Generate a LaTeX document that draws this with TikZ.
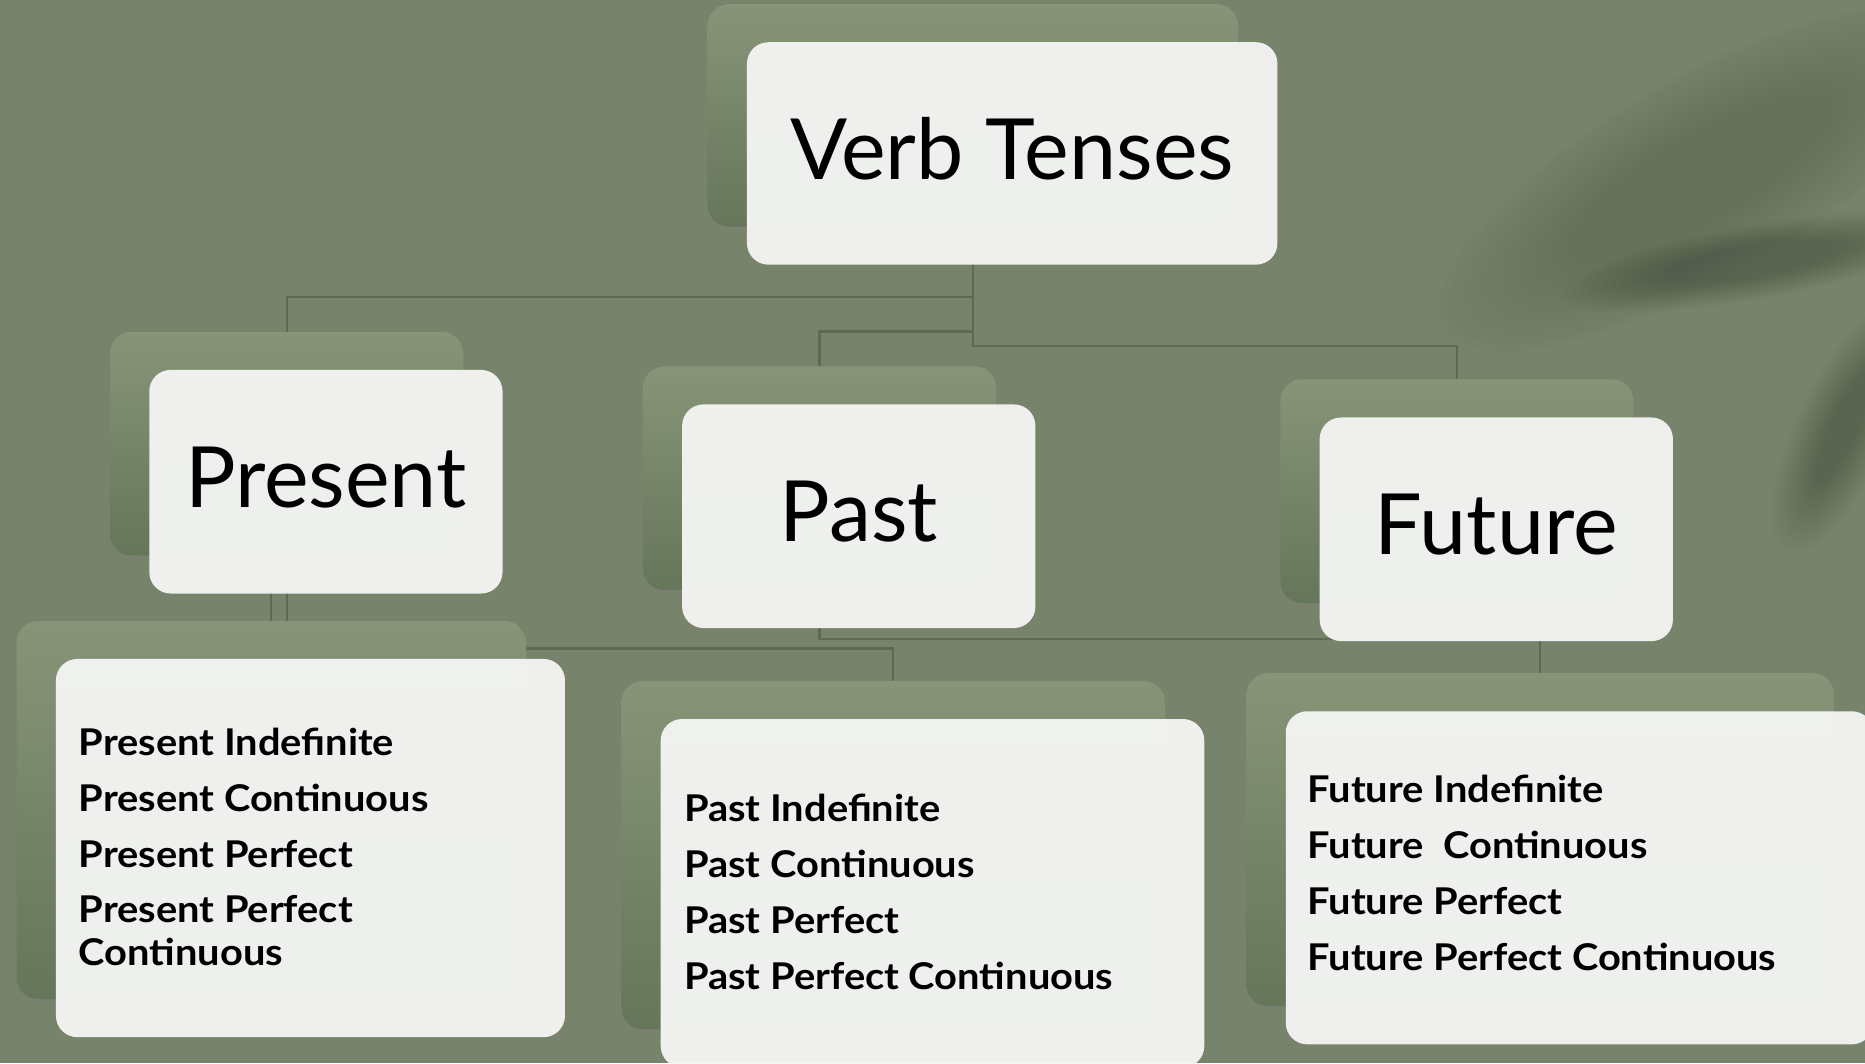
\documentclass[tikz,border=0pt]{standalone}
\usepackage{fontspec}
\setmainfont{Lato}
\newfontfamily\itemfont{Lato}[FakeStretch=1.08]
\usetikzlibrary{shadows}
\definecolor{sage}{HTML}{77836A}
\definecolor{sagelight}{HTML}{879478}
\definecolor{sagedark}{HTML}{66765A}
\definecolor{linkgreen}{HTML}{5E6A52}
\definecolor{card}{HTML}{F4F5F3}
\pgfdeclarelayer{bg}
\pgfdeclarelayer{links}
\pgfsetlayers{bg,links,main}

\tikzset{
  backbox/.style={rectangle, rounded corners=18pt, inner sep=0pt,
    top color=sagelight, bottom color=sagedark,
    drop shadow={shadow xshift=1pt, shadow yshift=-3pt, opacity=0.35}},
  frontbox/.style={rectangle, rounded corners=18pt, inner sep=0pt,
    fill=card, fill opacity=0.96, text opacity=1, text depth=8pt,
    font=\fontsize{71}{85}\selectfont},
  link/.style={draw=linkgreen, line width=1.8pt},
  item/.style={anchor=base west, inner sep=0pt,
    font=\itemfont\bfseries\fontsize{31}{36}\selectfont},
  leafshade/.style={fill=black, opacity=0.012},
}

\begin{document}
\begin{tikzpicture}[x=1pt, y=-1pt]
  \useasboundingbox (0,0) rectangle (1568,894);

  % background with the soft leaf shadow
  \begin{pgfonlayer}{bg}
    \fill[sage] (0,0) rectangle (1568,894);
    \foreach \k in {0,...,14} {
      \fill[leafshade, opacity=0.008] (1430,150) ellipse [x radius={250*(1-0.035*\k)}, y radius={85*(1-0.04*\k)}, rotate=30];
      \fill[leafshade] (1475,220) ellipse [x radius={170*(1-0.04*\k)}, y radius={32*(1-0.04*\k)}, rotate=10];
      \fill[leafshade] (1550,360) ellipse [x radius={115*(1-0.04*\k)}, y radius={40*(1-0.05*\k)}, rotate=65];
    }
  \end{pgfonlayer}

  % cards: back plate + front card
  \foreach \n/\x/\y/\w/\h/\t in {
      top/818/97/446/187/Verb Tenses,
      pres/241/373/297/188/Present,
      past/689/402/297/188/Past,
      fut/1225/413/297/188/Future,
      presl/228/681/428/318/,
      pastl/751/719/457/293/,
      futl/1295/706/494/280/} {
    \node[backbox, minimum width=\w pt, minimum height=\h pt] (\n B) at (\x,\y) {};
    \node[frontbox, minimum width=\w pt, minimum height=\h pt] (\n) at ([shift={(33,32)}]\n B.center) {\t};
  }

  % list entries
  \foreach \t/\yy [count=\i] in {Present Indefinite/635, Present Continuous/682,
      Present Perfect/729, Present Perfect/776, Continuous/812}
    \node[item] (presi-\i) at (66,\yy) {\t};
  \foreach \t/\yy [count=\i] in {Past Indefinite/691, Past Continuous/738,
      Past Perfect/785, Past Perfect Continuous/832}
    \node[item] (pasti-\i) at (575,\yy) {\t};
  \foreach \t/\yy [count=\i] in {Future Indefinite/675, Future\ \ Continuous/722,
      Future Perfect/769, Future Perfect Continuous/816}
    \node[item] (futi-\i) at (1099,\yy) {\t};

  % connectors
  \begin{pgfonlayer}{links}
    \draw[link] (topB.south) -- ++(0,59) -| (presB.north);
    \draw[link] (topB.south) -- ++(0,88) -| (pastB.north);
    \draw[link] (topB.south) -- ++(0,100) -| (futB.north);
    \draw[link] (presB.south) -- ++(0,18) -| (preslB.north);
    \draw[link] (presB.south) -- ++(0,78) -| (pastlB.north);
    \draw[link] (pastB.south) -- ++(0,41) -| (futlB.north);
  \end{pgfonlayer}
\end{tikzpicture}
\end{document}
